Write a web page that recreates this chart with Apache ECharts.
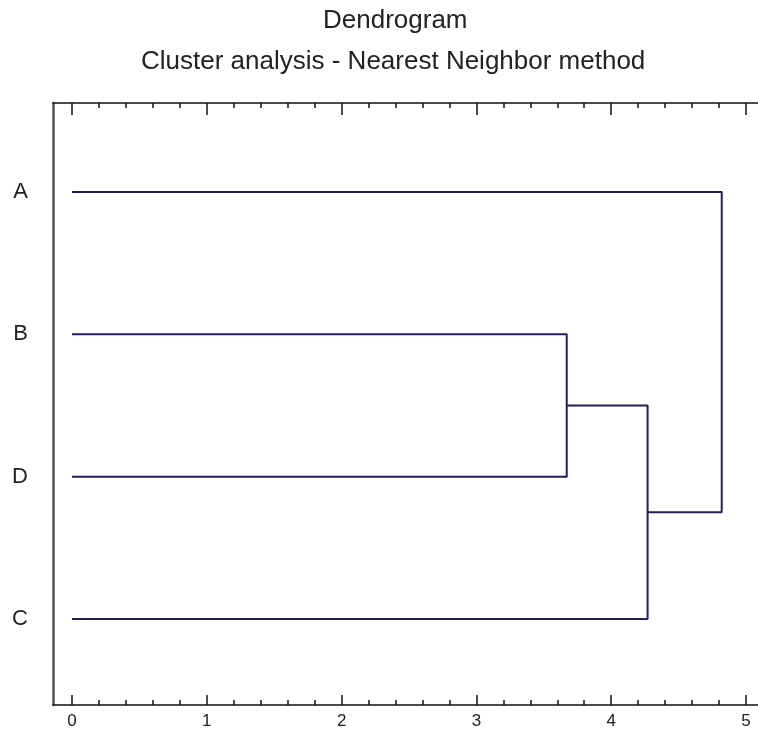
<!DOCTYPE html>
<html>
<head>
<meta charset="utf-8">
<script src="https://cdn.jsdelivr.net/npm/echarts@6/dist/echarts.min.js"></script>
<style>html,body{margin:0;padding:0;background:#fff}#c{width:758px;height:732px}</style>
</head>
<body>
<div id="c"></div>
<script>
// Leaves, top to bottom
var leaves = ['A', 'B', 'D', 'C'];
// Merges: [cluster1, cluster2, distance]
var merges = [
  ['B', 'D', 3.67],
  ['BD', 'C', 4.27],
  ['BDC', 'A', 4.82]
];
var majorTicks = [0, 1, 2, 3, 4, 5];
var minorTicks = [0.2, 0.4, 0.6, 0.8, 1.2, 1.4, 1.6, 1.8, 2.2, 2.4, 2.6, 2.8,
                  3.2, 3.4, 3.6, 3.8, 4.2, 4.4, 4.6, 4.8];
var leafSlots = [4, 3, 2, 1];

var FONT = '"Liberation Sans", Arial, sans-serif';
var pos = {}, hgt = {};
leaves.forEach(function (l, i) { pos[l] = leafSlots[i]; hgt[l] = 0; });

var series = [];
merges.forEach(function (m) {
  var a = m[0], b = m[1], d = m[2];
  var pts = [[hgt[a], pos[a]], [d, pos[a]], [d, pos[b]], [hgt[b], pos[b]]];
  series.push({
    type: 'line', data: pts, symbol: 'none', silent: true,
    lineStyle: { color: '#241f5c', width: 2 }, xAxisIndex: 0, yAxisIndex: 0
  });
  var name = a + b;
  pos[name] = (pos[a] + pos[b]) / 2;
  hgt[name] = d;
});

var X_MIN = -0.141, X_MAX = 5.089;
function xa(position, ticks, len, showLabel, showLine) {
  return {
    type: 'value', position: position, min: X_MIN, max: X_MAX,
    axisLine: { show: showLine, onZero: false, lineStyle: { color: '#111', width: 1.5 } },
    axisTick: { show: true, inside: true, length: len, customValues: ticks,
                lineStyle: { color: '#111', width: 1.5 } },
    axisLabel: { show: showLabel, customValues: majorTicks, margin: 8,
                 color: '#222', fontSize: 17, fontFamily: '"Liberation Sans Narrow", ' + FONT },
    splitLine: { show: false }
  };
}

var option = {
  animation: false,
  backgroundColor: '#fff',
  title: [
    { text: 'Dendrogram', left: 318, top: 3,
      textStyle: { fontSize: 26, fontWeight: 'normal', color: '#222', fontFamily: FONT } },
    { text: 'Cluster analysis - Nearest Neighbor method', left: 136, top: 44,
      textStyle: { fontSize: 26, fontWeight: 'normal', color: '#222', fontFamily: FONT } }
  ],
  grid: { left: 53, right: 0, top: 103, bottom: 27, containLabel: false },
  xAxis: [
    xa('bottom', majorTicks, 10, true, true),
    xa('bottom', minorTicks, 5, false, false),
    xa('top', majorTicks, 12, false, true),
    xa('top', minorTicks, 5, false, false)
  ],
  yAxis: [{
    type: 'value', min: 0.396, max: 4.625,
    axisLine: { show: true, onZero: false, lineStyle: { color: '#555', width: 2.5 } },
    axisTick: { show: false },
    splitLine: { show: false },
    axisLabel: {
      customValues: leafSlots, margin: 25, color: '#222', fontSize: 22, fontFamily: FONT,
      formatter: function (v) {
        var i = leafSlots.indexOf(v);
        return i >= 0 ? leaves[i] : '';
      }
    }
  }],
  series: series
};
echarts.init(document.getElementById('c')).setOption(option);
</script>
</body>
</html>
